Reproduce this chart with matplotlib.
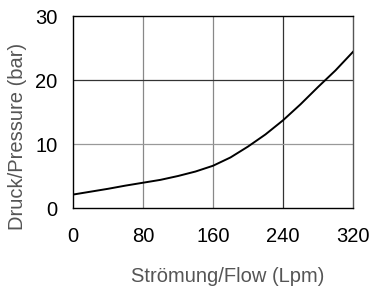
import matplotlib
matplotlib.use('Agg')
import matplotlib.pyplot as plt

plt.rcParams['font.family'] = ['Liberation Sans', 'DejaVu Sans']

# Durchfluss / Druck Kennlinie
flow = [0, 20, 40, 60, 80, 100, 120, 140, 160, 180, 200, 220, 240, 260, 280, 300, 320]
pressure = [2.1, 2.55, 3.0, 3.5, 3.95, 4.4, 5.0, 5.7, 6.6, 7.9, 9.6, 11.5, 13.7, 16.2, 18.9, 21.5, 24.4]
xticks = [0, 80, 160, 240, 320]
yticks = [0, 10, 20, 30]

fig = plt.figure(figsize=(3.77, 2.86), dpi=100)
ax = fig.add_axes([0.1936, 0.2727, 0.7427, 0.6713])

# grid lines, some darker than others like in the datasheet
for xv in xticks[1:-1]:
    c = '#333333' if xv == 240 else '#888888'
    ax.axvline(xv, color=c, lw=0.9, zorder=1)
for yv in yticks[1:-1]:
    c = '#333333' if yv == 20 else '#999999'
    ax.axhline(yv, color=c, lw=0.9, zorder=1)

ax.plot(flow, pressure, color='black', lw=1.4, zorder=3)

ax.set_xlim(0, 320)
ax.set_ylim(0, 30)
ax.set_xticks(xticks)
ax.set_yticks(yticks)
ax.tick_params(length=0, labelsize=14.5, colors='black')
ax.tick_params(axis='y', pad=11)
ax.tick_params(axis='x', pad=14)
for s in ['left', 'bottom', 'top']:
    ax.spines[s].set_color('black')
ax.spines['right'].set_color('#555555')
for s in ax.spines.values():
    s.set_linewidth(1.0)

ax.set_xlabel('Strömung/Flow (Lpm)', fontsize=14.5, color='#555555')
ax.set_ylabel('Druck/Pressure (bar)', fontsize=14.5, color='#555555')
ax.xaxis.set_label_coords(0.554, -0.305)
ax.yaxis.set_label_coords(-0.165, 0.375)

fig.savefig('out.png', dpi=100)
